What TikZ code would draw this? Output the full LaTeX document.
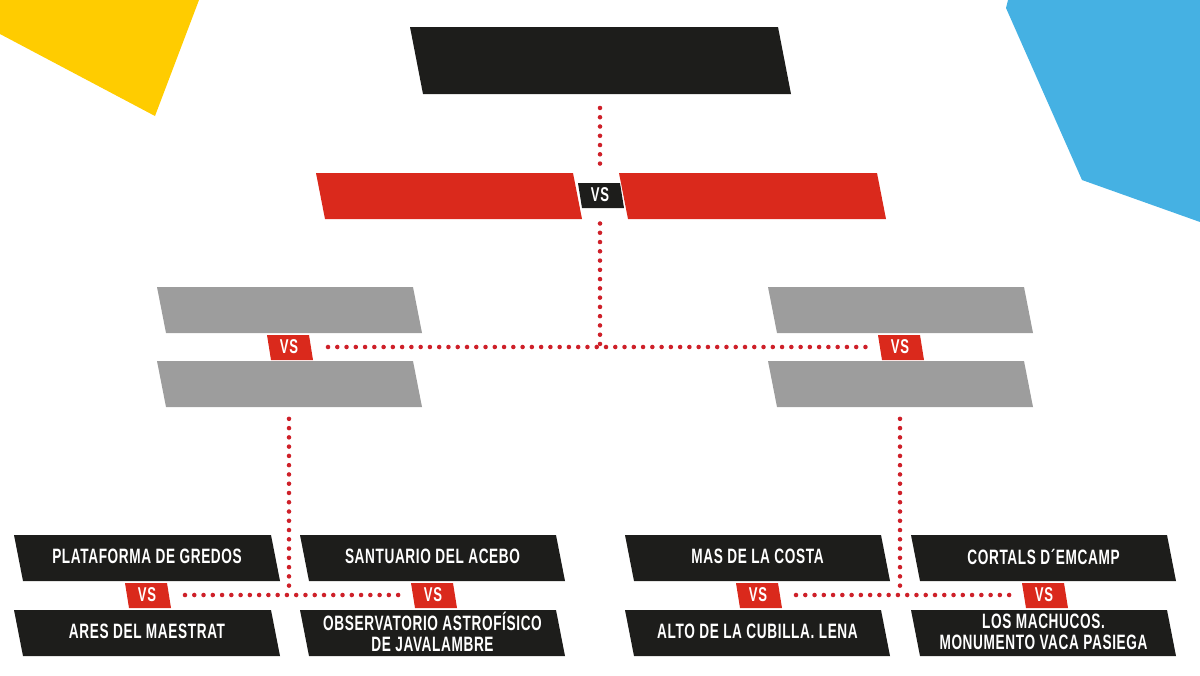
\documentclass[tikz,border=0pt]{standalone}
\usepackage{fontspec}
\setmainfont[FakeStretch=0.655,LetterSpace=3.0]{Liberation Sans Bold}
\definecolor{ink}{HTML}{1D1D1B}
\definecolor{redbar}{HTML}{DA291C}
\definecolor{graybar}{HTML}{9D9D9D}
\definecolor{sun}{HTML}{FFCC00}
\definecolor{sky}{HTML}{45B1E3}
\definecolor{dotred}{HTML}{CE2029}
\tikzset{
  barlabel/.style={inner sep=0pt,outer sep=0pt,text=white,align=center,font=\fontsize{15.6}{15.8}\selectfont},
  vslabel/.style={inner sep=0pt,outer sep=0pt,text=white,font=\fontsize{15}{15}\selectfont},
  dotted line/.style={draw=dotred,line width=3.4pt,line cap=round,dash pattern=on 0pt off 6.95pt},
}
% name, x of top left, y of top, width, height, skew, colour, text
\newcommand{\slantbar}[8]{%
  \fill[#7] (#2,#3) -- ({#2+#4},#3) -- ({#2+#4+#6},{#3+#5}) -- ({#2+#6},{#3+#5}) -- cycle;
  \node[barlabel,minimum width={#4*0.75pt},minimum height={#5*0.75pt}] (#1) at ({#2+#4/2+#6/2},{#3+#5/2-1.5}) {#8};
}
\newcommand{\vsbadge}[4]{%
  \fill[#4] (#2,#3) -- ({#2+42},#3) -- ({#2+46},{#3+25}) -- ({#2+4},{#3+25}) -- cycle;
  \node[vslabel,minimum width=31.5pt,minimum height=18.75pt] (#1) at ({#2+22},{#3+12}) {VS};
}
\begin{document}
\begin{tikzpicture}[x=0.75pt,y=-0.75pt]
\useasboundingbox (0,0) rectangle (1200,675);
% corner shapes
\fill[sun] (0,0) -- (199,0) -- (155,116) -- (0,34) -- cycle;
\fill[sky] (1008,0) -- (1200,0) -- (1200,222) -- (1082,180) -- (1006,8) -- cycle;
% top
\slantbar{final}{410}{27}{368}{67}{13}{ink}{}
% red final pair
\slantbar{redL}{316}{173}{257}{46}{9}{redbar}{}
\slantbar{redR}{619}{173}{258}{46}{9}{redbar}{}
\vsbadge{vsTop}{578}{183}{ink}
% gray semifinals
\slantbar{grayLa}{157}{287}{256}{46}{9}{graybar}{}
\slantbar{grayLb}{157}{361}{256}{46}{9}{graybar}{}
\slantbar{grayRa}{768}{287}{256}{46}{9}{graybar}{}
\slantbar{grayRb}{768}{361}{256}{46}{9}{graybar}{}
\vsbadge{vsGL}{267}{335}{redbar}
\vsbadge{vsGR}{878}{335}{redbar}
% bottom
\slantbar{a1}{14}{535}{257}{46}{9}{ink}{PLATAFORMA DE GREDOS}
\slantbar{a2}{14}{610}{257}{46}{9}{ink}{ARES DEL MAESTRAT}
\slantbar{b1}{300}{535}{256}{46}{9}{ink}{SANTUARIO DEL ACEBO}
\slantbar{b2}{300}{610}{256}{46}{9}{ink}{OBSERVATORIO ASTROFÍSICO\\DE JAVALAMBRE}
\slantbar{c1}{625}{535}{256}{46}{9}{ink}{MAS DE LA COSTA}
\slantbar{c2}{625}{610}{256}{46}{9}{ink}{ALTO DE LA CUBILLA. LENA}
\slantbar{d1}{911}{535}{256}{46}{9}{ink}{CORTALS D´EMCAMP}
\slantbar{d2}{911}{610}{256}{46}{9}{ink}{LOS MACHUCOS.\\MONUMENTO VACA PASIEGA}
\vsbadge{vsA}{125}{583}{redbar}
\vsbadge{vsB}{411}{583}{redbar}
\vsbadge{vsC}{736}{583}{redbar}
\vsbadge{vsD}{1022}{583}{redbar}
% junctions
\coordinate (jMid) at (600,347);
\coordinate (jL) at (289,594);
\coordinate (jR) at (900,594);
% connectors
\draw[dotted line,shorten <=11.6pt,shorten >=7.5pt] (final.south -| jMid) -- (vsTop.north -| jMid);
\draw[dotted line,shorten <=12pt] (vsTop.south -| jMid) -- (jMid);
\draw[dotted line,shorten <=13.5pt,shorten >=8.25pt] (vsGL.east) -- (vsGR.west);
\draw[dotted line,shorten <=10pt] (grayLb.south -| jL) -- (jL);
\draw[dotted line,shorten <=10pt] (grayRb.south -| jR) -- (jR);
\draw[dotted line,shorten <=12.75pt,shorten >=8pt] (vsA.east) -- (vsB.west);
\draw[dotted line,shorten <=12.75pt,shorten >=8pt] (vsC.east) -- (vsD.west);
\end{tikzpicture}
\end{document}
